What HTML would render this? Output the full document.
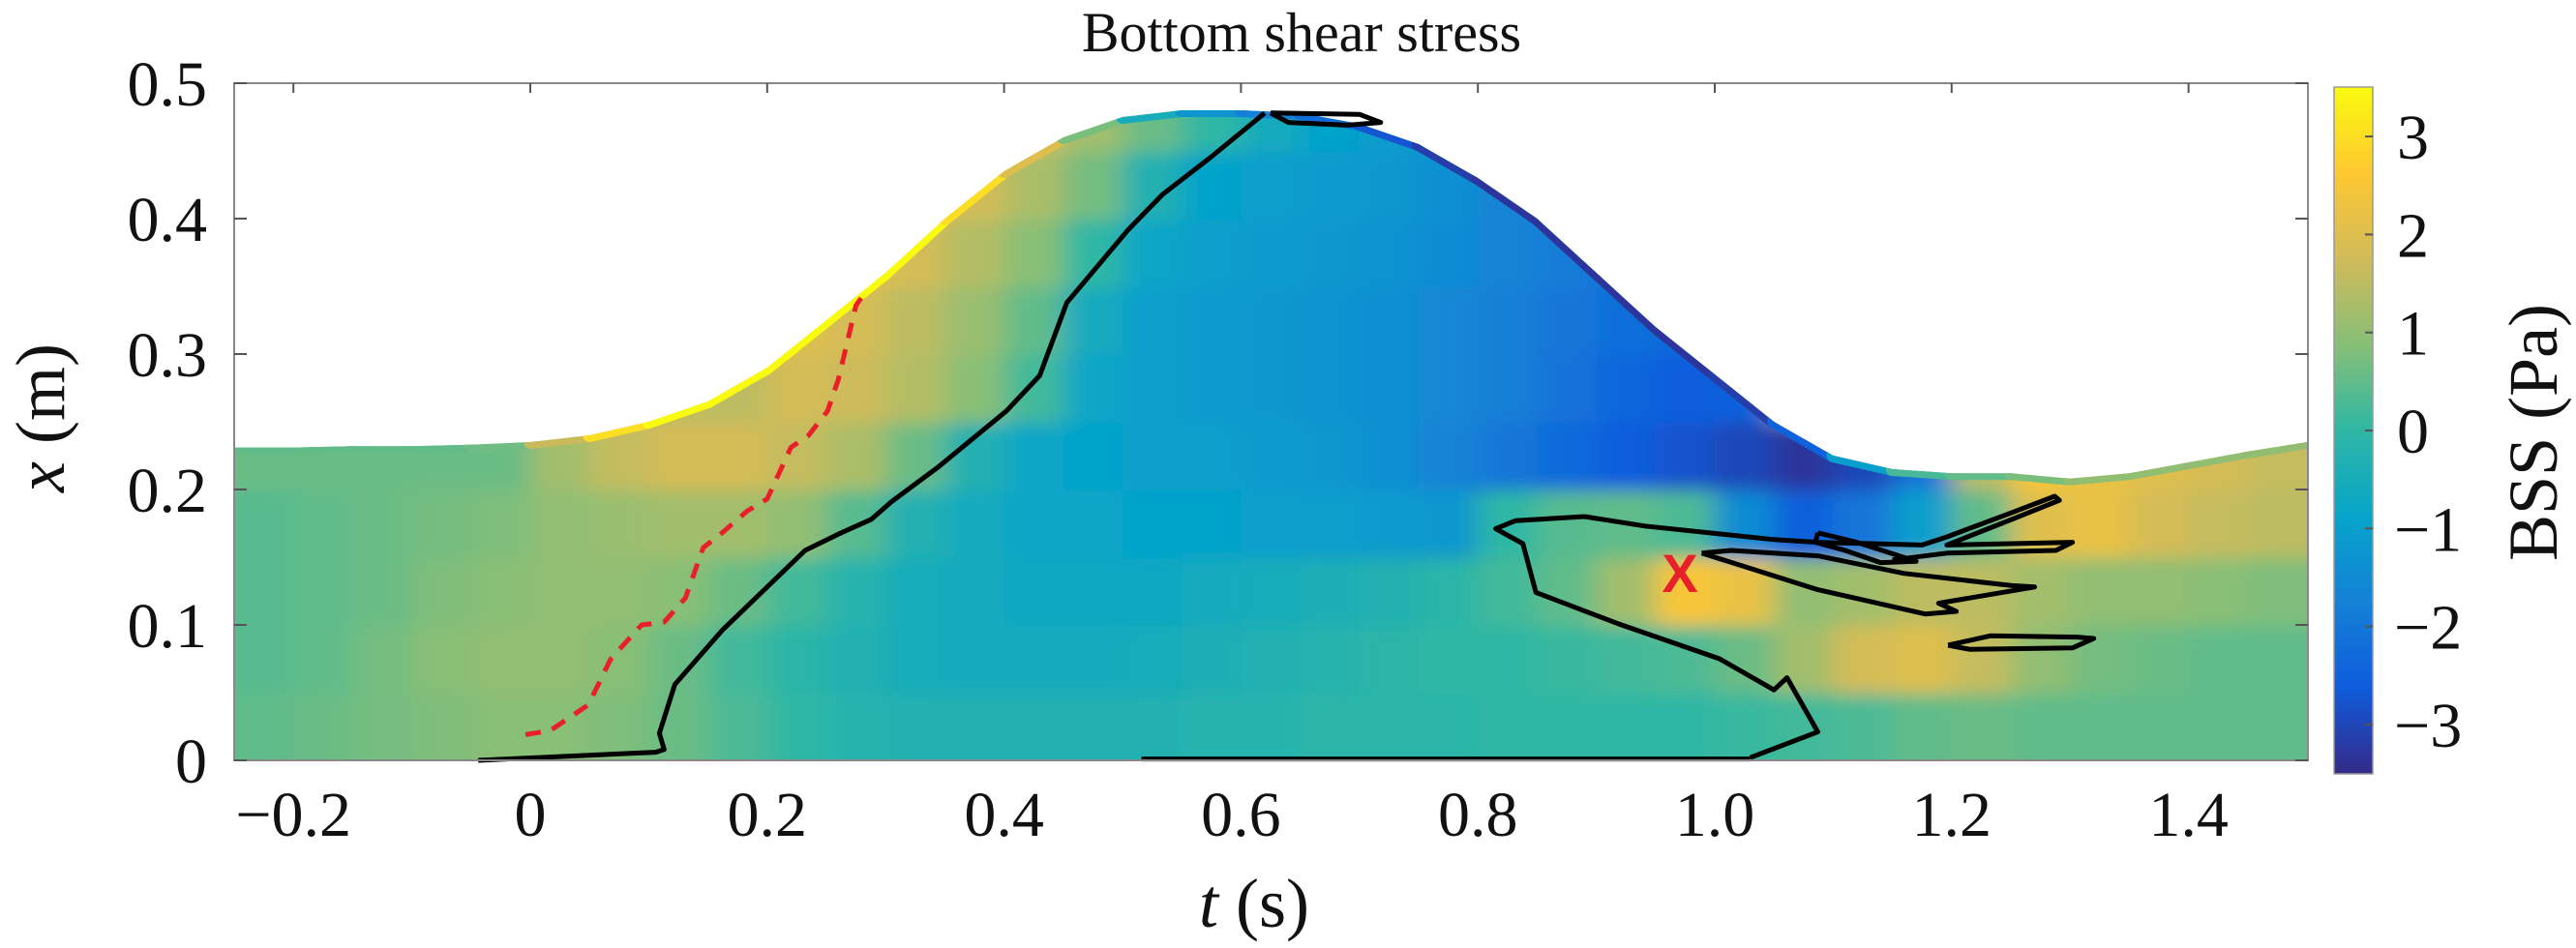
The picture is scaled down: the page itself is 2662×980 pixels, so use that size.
<!DOCTYPE html>
<html><head><meta charset="utf-8">
<style>
html,body{margin:0;padding:0;background:#fff;}
svg{display:block;font-family:"Liberation Serif",serif;}
</style></head>
<body>
<svg id="chart" width="2662" height="980" viewBox="0 0 2662 980" xmlns="http://www.w3.org/2000/svg">
<defs>
<linearGradient id="parula" x1="0" y1="1" x2="0" y2="0">
<stop offset="0" stop-color="#352A87"/><stop offset="0.125" stop-color="#0F5CDD"/>
<stop offset="0.25" stop-color="#1481D6"/><stop offset="0.375" stop-color="#06A4CA"/>
<stop offset="0.5" stop-color="#2EB7A4"/><stop offset="0.625" stop-color="#87BF77"/>
<stop offset="0.75" stop-color="#D1BB59"/><stop offset="0.875" stop-color="#FEC832"/>
<stop offset="1" stop-color="#F9FB0E"/>
</linearGradient>
<filter id="blur" x="-0.05" y="-0.1" width="1.1" height="1.2"><feGaussianBlur stdDeviation="14 9"/></filter>
<clipPath id="surfClip"><polygon id="surfPoly" points=""/></clipPath>
</defs>
<text x="1345" y="53" font-size="58" text-anchor="middle" fill="#111">Bottom shear stress</text>
<g id="heat" clip-path="url(#surfClip)"><g id="cells" filter="url(#blur)"></g><g id="edges"></g></g>
<g id="contours"></g>
<rect x="242" y="86" width="2143" height="700" fill="none" stroke="#888" stroke-width="2"/>
<g id="axes"></g>
<text x="1296" y="958" font-size="72" text-anchor="middle" fill="#111"><tspan font-style="italic">t</tspan> (s)</text>
<text transform="translate(66,432) rotate(-90)" font-size="72" text-anchor="middle" fill="#111"><tspan font-style="italic">x</tspan> (m)</text>
<rect x="2412" y="90" width="40" height="710" fill="url(#parula)" stroke="#999" stroke-width="1.5"/>
<g id="cbticks"></g>
<text transform="translate(2642,447) rotate(-90)" font-size="72" text-anchor="middle" fill="#111">BSS (Pa)</text>
<text x="1736" y="612" font-size="56" font-weight="bold" font-family="Liberation Sans, sans-serif" text-anchor="middle" fill="#e8202a">X</text>
</svg>
<script>
// ---- data ----
const tEdges0 = -0.25, tStep = 0.05;
const xStep = 0.05;
const surfT = [-0.25,-0.2,-0.15,-0.1,-0.05,0,0.05,0.1,0.15,0.2,0.25,0.3,0.35,0.4,0.45,0.5,0.55,0.6,0.65,0.7,0.75,0.8,0.85,0.9,0.95,1.0,1.05,1.1,1.15,1.2,1.25,1.3,1.35,1.4,1.45,1.5];
const surfX = [0.231,0.231,0.232,0.232,0.233,0.235,0.24,0.25,0.265,0.29,0.325,0.36,0.4,0.435,0.46,0.475,0.48,0.48,0.478,0.47,0.455,0.43,0.40,0.36,0.32,0.285,0.25,0.225,0.215,0.212,0.212,0.208,0.212,0.22,0.228,0.235];
const surfEdgeVal = [0.5,0.5,0.5,0.5,0.5,0.8,2.5,3.5,3.5,3.5,3.5,3.5,3.5,2.5,1.5,0,-1,-1.5,-2,-2.5,-3,-3.3,-3.3,-3.3,-3.3,-3.3,-3,-2,0,0.5,0.5,1,1,1,1,1];
const row0 = [0.5,0.6,0.7,0.8,0.9,0.9,0.8,0.6,0.3,0,-0.2,-0.3,-0.3,-0.3,-0.3,-0.3,-0.2,-0.2,-0.1,-0.1,-0.1,0,0,0,0,0.1,0.2,0.3,0.5,0.6,0.5,0.5,0.5,0.5,0.5];
const row1 = [0.4,0.5,0.7,0.9,1.0,1.0,0.9,0.6,0.2,-0.1,-0.3,-0.5,-0.6,-0.6,-0.6,-0.5,-0.4,-0.3,-0.2,-0.1,0,0,0.1,0.2,0.3,0.6,1.2,1.8,2.0,1.6,1.0,0.7,0.6,0.5,0.5];
const row2 = [0.4,0.5,0.6,0.8,0.9,1.0,1.0,0.9,0.6,0.2,-0.2,-0.5,-0.6,-0.7,-0.7,-0.7,-0.6,-0.5,-0.4,-0.3,-0.1,0.2,0.5,1.2,2.5,2.2,1.0,1.2,1.5,1.5,1.2,1.0,1.0,0.9,0.8];
const row3 = [0.4,0.5,0.6,0.7,0.8,1.0,1.1,1.2,1.2,1.0,0.4,-0.3,-0.6,-0.8,-0.8,-0.9,-0.9,-1.0,-1.0,-1.1,-1.2,0.0,0.4,0.5,0.3,-1.5,-2.5,-2.0,-1.0,0.5,2.0,2.2,1.8,1.6,1.5];
const row4 = [0.6,0.6,0.6,0.6,0.6,1.2,1.6,1.8,1.8,1.6,1.3,0.6,-0.3,-0.8,-0.9,-1.0,-1.0,-1.1,-1.2,-1.4,-1.7,-2.0,-2.3,-2.6,-2.8,-3.0,-3.3,-3.0,-2.0,1.5,2.5,2.2,2.0,1.8,1.6];
const row5 = [1.5,1.5,1.5,1.5,1.5,1.5,1.5,1.5,1.5,1.8,1.7,1.4,0.9,0.2,-0.8,-1.0,-1.1,-1.2,-1.3,-1.4,-1.6,-1.8,-2.1,-2.4,-2.6,-2.5,1.5,1.5,1.5,1.5,1.5,1.5,1.5,1.5,1.5];
const row6 = [1.5,1.5,1.5,1.5,1.5,1.5,1.5,1.5,1.8,2.0,1.8,1.5,1.1,0.5,-0.6,-1.0,-1.1,-1.2,-1.3,-1.4,-1.6,-1.8,-2.0,-2.2,-2.3,-2,-2,-2,-2,-2,-2,-2,-2,-2,-2];
const row7 = [2,2,2,2,2,2,2,2,2,2.2,2.2,1.8,1.4,0.9,0,-0.8,-1.0,-1.1,-1.2,-1.3,-1.5,-1.7,-1.9,-2,-2,-2,-2,-2,-2,-2,-2,-2,-2,-2,-2];
const row8 = [2,2,2,2,2,2,2,2,2,2.2,2.2,2.2,1.8,1.3,0.7,-0.3,-0.9,-1.0,-1.1,-1.2,-1.4,-1.7,-1.8,-1.8,-1.8,-1.8,-1.8,-1.8,-1.8,-1.8,-1.8,-1.8,-1.8,-1.8,-1.8];
const row9 = [2,2,2,2,2,2,2,2,2,2,2,2,2,1.8,1.2,0.6,0,-0.6,-0.9,-1.1,-1.3,-1.5,-1.5,-1.5,-1.5,-1.5,-1.5,-1.5,-1.5,-1.5,-1.5,-1.5,-1.5,-1.5,-1.5];
const rows = [row0,row1,row2,row3,row4,row5,row6,row7,row8,row9];
const zeroContour = [[-0.044,0],[0.106,0.006],[0.113,0.008],[0.109,0.02],[0.122,0.056],[0.162,0.096],[0.232,0.155],[0.26,0.167],[0.288,0.178],[0.305,0.191],[0.345,0.217],[0.402,0.258],[0.43,0.284],[0.453,0.338],[0.505,0.392],[0.534,0.418],[0.574,0.445],[0.609,0.47],[0.62,0.478]];
const topLoop = [[0.625,0.478],[0.7,0.477],[0.718,0.471],[0.69,0.469],[0.64,0.471],[0.625,0.478]];
const bottomLine = [[0.516,0.001],[1.03,0.001]];
const bigContour = [[1.03,0.002],[1.087,0.021],[1.061,0.061],[1.05,0.052],[1.004,0.075],[0.918,0.101],[0.849,0.124],[0.838,0.16],[0.815,0.171],[0.832,0.177],[0.89,0.18],[0.941,0.173],[1.05,0.163],[1.087,0.161],[1.175,0.159],[1.196,0.165],[1.251,0.183],[1.287,0.195],[1.291,0.192],[1.251,0.178],[1.196,0.159],[1.302,0.161],[1.288,0.155],[1.196,0.153],[1.15,0.148]];
const innerLoop = [[0.989,0.153],[1.087,0.126],[1.178,0.108],[1.204,0.11],[1.189,0.116],[1.27,0.128],[1.251,0.129],[1.16,0.138],[1.087,0.151],[1.014,0.155],[0.989,0.153]];
const smallLoop = [[1.087,0.168],[1.12,0.161],[1.17,0.147],[1.14,0.146],[1.11,0.155],[1.085,0.161],[1.087,0.168]];
const lowerLoop = [[1.197,0.085],[1.233,0.092],[1.306,0.091],[1.32,0.09],[1.302,0.083],[1.215,0.082],[1.197,0.085]];
const redDashed = [[-0.004,0.019],[0.017,0.022],[0.049,0.041],[0.068,0.075],[0.094,0.1],[0.113,0.102],[0.131,0.12],[0.146,0.157],[0.162,0.168],[0.183,0.184],[0.2,0.193],[0.22,0.231],[0.235,0.24],[0.251,0.258],[0.26,0.281],[0.275,0.336],[0.284,0.347]];
const xTicks = [-0.2,0,0.2,0.4,0.6,0.8,1.0,1.2,1.4];
const xTickLabels = ["\u22120.2","0","0.2","0.4","0.6","0.8","1.0","1.2","1.4"];
const yTicks = [0,0.1,0.2,0.3,0.4,0.5];
const yTickLabels = ["0","0.1","0.2","0.3","0.4","0.5"];
const cTicks = [-3,-2,-1,0,1,2,3];
const cTickLabels = ["\u22123","\u22122","\u22121","0","1","2","3"];

// ---- scales ----
const sx = t => 548 + t*1224;
const sy = x => 786 - x*1400;
const cbY = v => 445 - v*101.3;
const NS = "http://www.w3.org/2000/svg";
const stops = [[0,[53,42,135]],[0.125,[15,92,221]],[0.25,[20,129,214]],[0.375,[6,164,202]],[0.5,[46,183,164]],[0.625,[135,191,119]],[0.75,[209,187,89]],[0.875,[254,200,50]],[1,[249,251,14]]];
function color(v){
  let f=(v+3.5)/7; f=Math.max(0,Math.min(1,f));
  for(let i=1;i<stops.length;i++){ if(f<=stops[i][0]){ const a=stops[i-1],b=stops[i],u=(f-a[0])/(b[0]-a[0]);
    const c=a[1].map((q,k)=>Math.round(q+(b[1][k]-q)*u)); return `rgb(${c[0]},${c[1]},${c[2]})`; } }
  return "rgb(249,251,14)";
}
const poly = document.getElementById('surfPoly');
poly.setAttribute('points', surfT.map((t,i)=>sx(t)+','+sy(surfX[i])).join(' ')+` ${sx(1.5)},${sy(0)} ${sx(-0.25)},${sy(0)}`);
const cells = document.getElementById('cells');
rows.forEach((row,r)=>{
  row.forEach((v,c)=>{
    let x0=sx(tEdges0+c*tStep), x1=sx(tEdges0+(c+1)*tStep);
    let y0=sy((r+1)*xStep), y1=sy(r*xStep);
    if(c===0) x0-=40; if(c===row.length-1) x1+=40;
    if(r===0) y1+=40;
    if(r===rows.length-1) y0-=40;
    const el=document.createElementNS(NS,'rect');
    
    
    el.setAttribute('x',x0); el.setAttribute('y',y0);
    el.setAttribute('width',x1-x0+1); el.setAttribute('height',y1-y0+1);
    el.setAttribute('fill',color(v));
    cells.appendChild(el);
  });
});
// surface edge strip
const edges = document.getElementById('edges');
for(let i=0;i<surfT.length-1;i++){
  const el=document.createElementNS(NS,'line');
  
  
  el.setAttribute('x1',sx(surfT[i])); el.setAttribute('y1',sy(surfX[i]));
  el.setAttribute('x2',sx(surfT[i+1])); el.setAttribute('y2',sy(surfX[i+1]));
  el.setAttribute('stroke',color((surfEdgeVal[i]+surfEdgeVal[i+1])/2));
  el.setAttribute('stroke-width',14); el.setAttribute('stroke-linecap','round');
  edges.appendChild(el);
}
const cg = document.getElementById('contours');
function line(pts,name,stroke,w,dash){
  const el=document.createElementNS(NS,'polyline');
  
  
  el.setAttribute('points',pts.map(p=>sx(p[0])+','+sy(p[1])).join(' '));
  el.setAttribute('fill','none'); el.setAttribute('stroke',stroke); el.setAttribute('stroke-width',w);
  el.setAttribute('stroke-linejoin','round');
  if(dash) el.setAttribute('stroke-dasharray',dash);
  cg.appendChild(el);
}
line(zeroContour,'zero-contour','#000',5);
line(topLoop,'top-contour-loop','#000',5);
line(bottomLine,'bottom-contour','#000',5);
line(bigContour,'outer-contour','#000',5);
line(innerLoop,'inner-contour-loop','#000',5);
line(smallLoop,'small-contour-loop','#000',5);
line(lowerLoop,'lower-contour-loop','#000',5);
line(redDashed,'red-dashed-line','#e8202a',5,'16 12');
const ax=document.getElementById('axes');
xTicks.forEach((t,i)=>{
  const tk=document.createElementNS(NS,'line');
  
  
  tk.setAttribute('x1',sx(t)); tk.setAttribute('x2',sx(t)); tk.setAttribute('y1',86); tk.setAttribute('y2',96);
  tk.setAttribute('stroke','#555'); tk.setAttribute('stroke-width',2); ax.appendChild(tk);
  const tx=document.createElementNS(NS,'text');
  
  
  tx.setAttribute('x',sx(t)); tx.setAttribute('y',864); tx.setAttribute('font-size',66);
  tx.setAttribute('text-anchor','middle'); tx.setAttribute('fill','#111');
  tx.textContent=xTickLabels[i]; ax.appendChild(tx);
});
yTicks.forEach((v,i)=>{
  [[242,255],[2372,2385]].forEach(p=>{
    const tk=document.createElementNS(NS,'line');
    
    
    tk.setAttribute('x1',p[0]); tk.setAttribute('x2',p[1]); tk.setAttribute('y1',sy(v)); tk.setAttribute('y2',sy(v));
    tk.setAttribute('stroke','#555'); tk.setAttribute('stroke-width',2); ax.appendChild(tk);
  });
  const tx=document.createElementNS(NS,'text');
  
  
  tx.setAttribute('x',214); tx.setAttribute('y',sy(v)+23); tx.setAttribute('font-size',66);
  tx.setAttribute('text-anchor','end'); tx.setAttribute('fill','#111');
  tx.textContent=yTickLabels[i]; ax.appendChild(tx);
});
const cb=document.getElementById('cbticks');
cTicks.forEach((v,i)=>{
  const tk=document.createElementNS(NS,'line');
  
  
  tk.setAttribute('x1',2444); tk.setAttribute('x2',2452); tk.setAttribute('y1',cbY(v)); tk.setAttribute('y2',cbY(v));
  tk.setAttribute('stroke','#555'); tk.setAttribute('stroke-width',2); cb.appendChild(tk);
  const tx=document.createElementNS(NS,'text');
  
  
  tx.setAttribute('x',v<0?2474:2477); tx.setAttribute('y',cbY(v)+23); tx.setAttribute('font-size',66);
  tx.setAttribute('fill','#111');
  tx.textContent=cTickLabels[i]; cb.appendChild(tx);
});
</script>
</body></html>
